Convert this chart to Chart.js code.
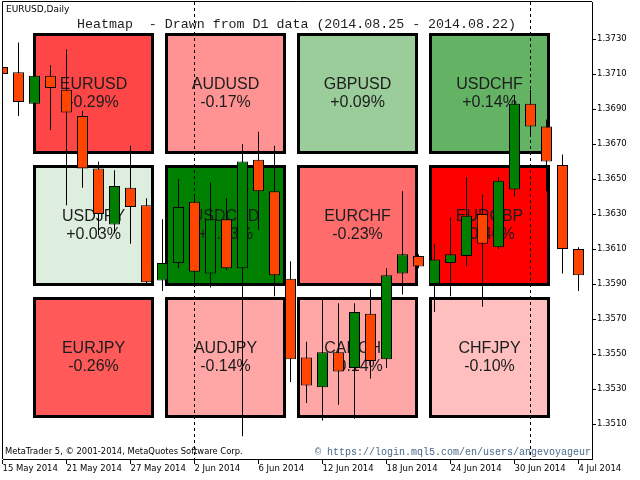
<!DOCTYPE html>
<html lang="en">
<head>
<meta charset="utf-8">
<title>EURUSD,Daily - Heatmap</title>
<script src="https://cdn.jsdelivr.net/npm/chart.js@4.4.1/dist/chart.umd.min.js"></script>
<style>
  html, body { margin: 0; padding: 0; background: #fff; }
  canvas { display: block; }
</style>
</head>
<body>
<canvas id="chart" width="640" height="480"></canvas>
<script>
// daily candles, 15 May 2014 .. 4 Jul 2014
const dates = [
  '15 May 2014', '16 May 2014', '19 May 2014', '20 May 2014', '21 May 2014', '22 May 2014',
  '23 May 2014', '26 May 2014', '27 May 2014', '28 May 2014', '29 May 2014', '30 May 2014',
  '2 Jun 2014', '3 Jun 2014', '4 Jun 2014', '5 Jun 2014', '6 Jun 2014', '9 Jun 2014',
  '10 Jun 2014', '11 Jun 2014', '12 Jun 2014', '13 Jun 2014', '16 Jun 2014', '17 Jun 2014',
  '18 Jun 2014', '19 Jun 2014', '20 Jun 2014', '23 Jun 2014', '24 Jun 2014', '25 Jun 2014',
  '26 Jun 2014', '27 Jun 2014', '30 Jun 2014', '1 Jul 2014', '2 Jul 2014', '3 Jul 2014', '4 Jul 2014'
];
const open = [1.3714, 1.3711, 1.3693, 1.3709, 1.3701, 1.3686, 1.3656, 1.3624, 1.3645, 1.3635, 1.3592, 1.3602,
  1.3637, 1.3596, 1.3627, 1.3599, 1.3661, 1.3643, 1.3593, 1.3548, 1.3531, 1.3551, 1.3542, 1.3573,
  1.3547, 1.3596, 1.3606, 1.3590, 1.3602, 1.3606, 1.3630, 1.3611, 1.3644, 1.3693, 1.3680, 1.3658, 1.3610];
const high = [1.3735, 1.3728, 1.3711, 1.3715, 1.3724, 1.3689, 1.3660, 1.3655, 1.3669, 1.3639, 1.3627, 1.3650,
  1.3640, 1.3648, 1.3639, 1.3670, 1.3677, 1.3669, 1.3603, 1.3557, 1.3581, 1.3579, 1.3579, 1.3587,
  1.3599, 1.3643, 1.3607, 1.3613, 1.3628, 1.3651, 1.3641, 1.3651, 1.3698, 1.3701, 1.3684, 1.3664, 1.3611];
const low = [1.3690, 1.3686, 1.3690, 1.3678, 1.3635, 1.3645, 1.3618, 1.3619, 1.3613, 1.3590, 1.3586, 1.3599,
  1.3590, 1.3588, 1.3598, 1.3503, 1.3621, 1.3583, 1.3534, 1.3522, 1.3512, 1.3521, 1.3513, 1.3536,
  1.3542, 1.3584, 1.3599, 1.3574, 1.3583, 1.3600, 1.3577, 1.3610, 1.3640, 1.3675, 1.3643, 1.3596, 1.3586];
const close = [1.3710, 1.3694, 1.3709, 1.3702, 1.3688, 1.3656, 1.3630, 1.3646, 1.3634, 1.3591, 1.3602, 1.3634,
  1.3597, 1.3627, 1.3599, 1.3660, 1.3643, 1.3595, 1.3547, 1.3532, 1.3551, 1.3540, 1.3574, 1.3546,
  1.3595, 1.3607, 1.3600, 1.3604, 1.3607, 1.3629, 1.3613, 1.3649, 1.3693, 1.3680, 1.3660, 1.3610, 1.3595];

const xTickLabels = ['15 May 2014', '21 May 2014', '27 May 2014', '2 Jun 2014', '6 Jun 2014',
  '12 Jun 2014', '18 Jun 2014', '24 Jun 2014', '30 Jun 2014', '4 Jul 2014'];
const yTicks = [1.3510, 1.3530, 1.3550, 1.3570, 1.3590, 1.3610, 1.3630, 1.3650, 1.3670, 1.3690, 1.3710, 1.3730];

// heatmap cells, row by row
const pairs = ['EURUSD', 'AUDUSD', 'GBPUSD', 'USDCHF',
  'USDJPY', 'USDCAD', 'EURCHF', 'EURGBP',
  'EURJPY', 'AUDJPY', 'CADCHF', 'CHFJPY'];
const changes = [-0.29, -0.17, 0.09, 0.14,
  0.03, 0.23, -0.23, -0.40,
  -0.26, -0.14, -0.14, -0.10];

const symbolText = 'EURUSD,Daily';
const titleText = 'Heatmap  - Drawn from D1 data (2014.08.25 - 2014.08.22)';
const footLeft = 'MetaTrader 5, \u00a9 2001-2014, MetaQuotes Software Corp.';
const footRight = '\u00a9 https://login.mql5.com/en/users/angevoyageur';

// layout in pixels
const AREA_L = 3, AREA_T = 2, AREA_R = 592, AREA_B = 459;
const BAR_STEP = 16, FIRST_BAR_X = 2.5;
const PX_PER_PRICE = 35 / 0.002, Y_REF = 1.3730, Y_REF_PX = 39;
const TILE = 121, TILE_STEP = 132, TILE_X0 = 33, TILE_Y0 = 33, COLS = 4;

const areaW = AREA_R - AREA_L, areaH = AREA_B - AREA_T;
const xMin = (AREA_L - FIRST_BAR_X) / BAR_STEP;
const yMax = Y_REF + (Y_REF_PX - AREA_T) / PX_PER_PRICE;
const yMin = yMax - areaH / PX_PER_PRICE;
const gxMin = -(TILE_X0 + TILE / 2 - AREA_L) / TILE_STEP;
const gyMin = -(TILE_Y0 - AREA_T) / TILE_STEP;

const maxUp = Math.max(...changes), maxDown = Math.min(...changes);
function tileColor(v) {
  if (v >= 0) {
    const t = v / maxUp;
    const rb = Math.round(255 * (1 - t));
    return 'rgb(' + rb + ',' + Math.round(255 - 127 * t) + ',' + rb + ')';
  }
  const gb = Math.round(255 * (1 - v / maxDown));
  return 'rgb(255,' + gb + ',' + gb + ')';
}
const fmtChange = v => (v > 0 ? '+' : '') + v.toFixed(2) + '%';

// first bar of each month gets a dashed separator
const monthStarts = dates.map((d, i) => i).filter(i => i > 0 && dates[i].split(' ')[1] !== dates[i - 1].split(' ')[1]);

const axisFont = { family: 'DejaVu Sans', size: 8.5 };

const overlay = {
  id: 'overlay',
  afterDatasetDraw(chart, args) {
    if (args.meta.yAxisID !== 'gy') return;
    const ctx = chart.ctx;
    ctx.save();
    ctx.font = '16px "Liberation Sans", Arial, sans-serif';
    ctx.fillStyle = '#1c1c1c';
    ctx.textAlign = 'center';
    ctx.textBaseline = 'middle';
    args.meta.data.forEach((el, i) => {
      const p = el.getProps(['x', 'y', 'base'], true);
      const cy = (p.y + p.base) / 2;
      ctx.fillText(pairs[i], p.x, cy - 8.5);
      ctx.fillText(fmtChange(changes[i]), p.x, cy + 9);
    });
    // month separators
    const xs = chart.scales.x, area = chart.chartArea;
    ctx.strokeStyle = '#000';
    ctx.lineWidth = 1;
    ctx.setLineDash([3, 3]);
    monthStarts.forEach(i => {
      const px = xs.getPixelForValue(i);
      ctx.beginPath();
      ctx.moveTo(px, area.top);
      ctx.lineTo(px, area.bottom);
      ctx.stroke();
    });
    ctx.restore();
  },
  afterDraw(chart) {
    const ctx = chart.ctx, area = chart.chartArea;
    ctx.save();
    ctx.strokeStyle = '#000';
    ctx.lineWidth = 1;
    ctx.beginPath();
    ctx.moveTo(area.left - 0.5, area.bottom);
    ctx.lineTo(area.left - 0.5, area.top - 0.5);
    ctx.lineTo(area.right, area.top - 0.5);
    ctx.stroke();

    ctx.textBaseline = 'middle';
    ctx.textAlign = 'left';
    ctx.fillStyle = '#000';
    ctx.font = '9px "DejaVu Sans", sans-serif';
    ctx.fillText(symbolText, 6, 10);
    ctx.font = '8.4px "DejaVu Sans", sans-serif';
    ctx.fillText(footLeft, 5, 452);

    ctx.fillStyle = '#1e1e1e';
    ctx.font = '13.3px "Liberation Mono", monospace';
    ctx.fillText(titleText, 77, 24);

    ctx.fillStyle = '#4a6a8a';
    ctx.font = '10px "Liberation Mono", monospace';
    ctx.fillText(footRight, 315, 452);
    ctx.restore();
  }
};

const barBase = { grouped: false, inflateAmount: 0, borderSkipped: false };

new Chart(document.getElementById('chart'), {
  type: 'bar',
  data: {
    datasets: [
      Object.assign({
        label: 'body',
        data: dates.map((d, i) => ({ x: i, y: [open[i], close[i]] })),
        backgroundColor: dates.map((d, i) => close[i] >= open[i] ? '#008000' : '#ff4500'),
        borderColor: '#000',
        borderWidth: 1,
        barThickness: 11,
        order: 0,
        xAxisID: 'x', yAxisID: 'y'
      }, barBase),
      Object.assign({
        label: 'wick',
        data: dates.map((d, i) => ({ x: i, y: [low[i], high[i]] })),
        backgroundColor: '#000',
        borderWidth: 0,
        barThickness: 1,
        order: 1,
        xAxisID: 'x', yAxisID: 'y'
      }, barBase),
      Object.assign({
        label: 'heatmap',
        data: pairs.map((p, i) => {
          const r = Math.floor(i / COLS);
          return { x: i % COLS, y: [r, r + TILE / TILE_STEP] };
        }),
        backgroundColor: changes.map(tileColor),
        borderColor: '#000',
        borderWidth: 3,
        barThickness: TILE,
        order: 2,
        xAxisID: 'gx', yAxisID: 'gy'
      }, barBase)
    ]
  },
  options: {
    responsive: false,
    devicePixelRatio: 1,
    animation: false,
    events: [],
    layout: { padding: { left: AREA_L, top: AREA_T, right: 0, bottom: 0 } },
    plugins: { legend: { display: false }, tooltip: { enabled: false }, title: { display: false } },
    scales: {
      x: {
        type: 'linear', position: 'bottom', offset: false,
        min: xMin, max: xMin + areaW / BAR_STEP,
        afterBuildTicks: s => { s.ticks = xTickLabels.map(l => ({ value: dates.indexOf(l) })); },
        afterFit: s => { s.height = 480 - AREA_B; s.paddingLeft = 0; s.paddingRight = 0; },
        ticks: {
          callback: v => dates[v], align: 'start', maxRotation: 0, minRotation: 0,
          autoSkip: false, padding: 0, color: '#000', font: axisFont
        },
        grid: { drawOnChartArea: false, drawTicks: true, tickLength: 5, tickColor: '#000', color: '#000', offset: false },
        border: { display: true, color: '#000', width: 1 }
      },
      y: {
        type: 'linear', position: 'right', offset: false, beginAtZero: false,
        min: yMin, max: yMax,
        afterBuildTicks: s => { s.ticks = yTicks.map(v => ({ value: v })); },
        afterFit: s => { s.width = 640 - AREA_R; s.paddingTop = 0; s.paddingBottom = 0; },
        ticks: { callback: v => v.toFixed(4), padding: 1, color: '#000', font: axisFont },
        grid: { drawOnChartArea: false, drawTicks: true, tickLength: 4, tickColor: '#000', color: '#000' },
        border: { display: true, color: '#000', width: 1 }
      },
      gx: {
        type: 'linear', axis: 'x', position: 'top', display: false, offset: false,
        min: gxMin, max: gxMin + areaW / TILE_STEP
      },
      gy: {
        type: 'linear', axis: 'y', position: 'left', display: false, offset: false,
        beginAtZero: false, reverse: true,
        min: gyMin, max: gyMin + areaH / TILE_STEP
      }
    }
  },
  plugins: [overlay]
});
</script>
</body>
</html>
